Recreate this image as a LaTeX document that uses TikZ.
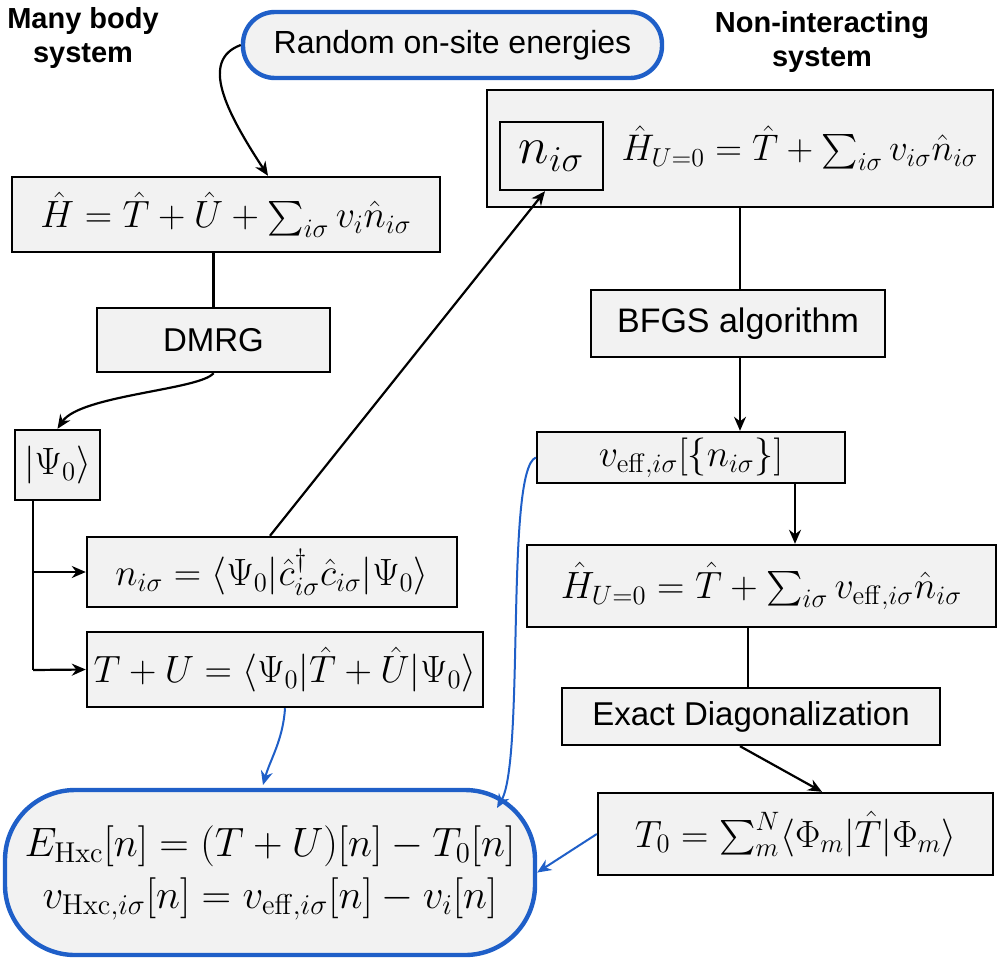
\RequirePackage{fix-cm}
\documentclass[tikz,border=0pt]{standalone}
\usepackage{amsmath}
\usepackage[no-math]{fontspec}
\setmainfont{Liberation Sans}
\usetikzlibrary{arrows.meta}
\definecolor{bl}{HTML}{1F5FC8}
\definecolor{bg}{HTML}{F2F2F2}
\tikzset{
 box/.style={draw=black,line width=1.2pt,fill=bg,inner sep=0pt,font=\fontsize{19}{23}\selectfont},
 tbox/.style={box,font=\fontsize{16.5}{20}\selectfont},
 rbox/.style={draw=bl,line width=2.2pt,fill=bg,rounded corners=16pt,inner sep=0pt,font=\fontsize{16}{20}\selectfont},
 arr/.style={-{Stealth[length=7pt,width=6pt]},line width=1.1pt},
 barr/.style={-{Stealth[length=7pt,width=6pt]},line width=1pt,bl},
 ln/.style={line width=1.1pt},
 ttl/.style={font=\bfseries\fontsize{14.5}{17}\selectfont,align=center}
}
\begin{document}
\begin{tikzpicture}[x=0.5pt,y=-0.5pt]
\useasboundingbox (0,0) rectangle (1000,959);
\node[ttl] (t1) at (83,38) {Many body\\system};
\node[ttl] (t2) at (822,42) {Non-interacting\\system};
\node[rbox,minimum width=209.5pt,minimum height=33pt] (rand) at (452.5,45) {Random on-site energies};
\node[box,minimum width=214pt,minimum height=37.5pt] (H) at (226,214.5) {$\hat H=\hat T+\hat U+\sum_{i\sigma} v_i\hat n_{i\sigma}$};
\node[tbox,minimum width=116.5pt,minimum height=32pt] (dmrg) at (213.5,340) {DMRG};
\node[box,minimum width=42.5pt,minimum height=35pt] (psi) at (57.5,465) {$|\Psi_0\rangle$};
\node[box,minimum width=185pt,minimum height=35pt] (n) at (272,572) {$n_{i\sigma}=\langle\Psi_0|\hat c^\dagger_{i\sigma}\hat c_{i\sigma}|\Psi_0\rangle$};
\node[box,minimum width=198pt,minimum height=37.5pt] (tu) at (285,669.5) {$T+U=\langle\Psi_0|\hat T+\hat U|\Psi_0\rangle$};
\node[rbox,minimum width=265pt,minimum height=82.5pt,rounded corners=35pt,align=center,font=\fontsize{20.5}{24}\selectfont] (bot) at (270,872.5) {$E_{\mathrm{Hxc}}[n]=(T+U)[n]-T_0[n]$\\[2pt]$v_{\mathrm{Hxc},i\sigma}[n]=v_{\mathrm{eff},i\sigma}[n]-v_i[n]$};
\node[box,minimum width=253pt,minimum height=58.5pt] (R) at (740,148.5) {};
\node[box,minimum width=51.5pt,minimum height=34pt,font=\fontsize{26}{30}\selectfont] (ni) at (551.5,156) {$n_{i\sigma}$};
\node[font=\fontsize{18.5}{23}\selectfont] (Rt) at (800,148) {$\hat H_{U=0}=\hat T+\sum_{i\sigma} v_{i\sigma}\hat n_{i\sigma}$};
\node[tbox,minimum width=147pt,minimum height=33.5pt,font=\fontsize{17}{20}\selectfont] (bfgs) at (738,323.5) {BFGS algorithm};
\node[box,minimum width=154pt,minimum height=25.5pt] (veff) at (691,457.5) {$v_{\mathrm{eff},i\sigma}[\{n_{i\sigma}\}]$};
\node[box,minimum width=234.5pt,minimum height=41pt] (heff) at (761.5,586) {$\hat H_{U=0}=\hat T+\sum_{i\sigma} v_{\mathrm{eff},i\sigma}\hat n_{i\sigma}$};
\node[tbox,minimum width=189pt,minimum height=28.5pt] (ed) at (751,716.5) {Exact Diagonalization};
\node[box,minimum width=197.5pt,minimum height=41pt] (t0) at (795.5,834) {$T_0=\sum_m^N\langle\Phi_m|\hat T|\Phi_m\rangle$};
% connectors
\draw[arr] (rand.west) .. controls (200,60) and (225,110) .. (H.north -| 268,0);
\draw[ln] (H.south -| dmrg) -- (dmrg.north);
\draw[arr] (dmrg.south) .. controls (200,390) and (80,395) .. (psi.north);
\coordinate (jn) at (33,572);
\coordinate (jt) at (33,670);
\draw[ln] (psi.south -| jn) -- (jt);
\draw[arr] (jn) -- (n.west);
\draw[arr] (jt) -- (tu.west);
\draw[arr] (n.north -| 270,0) -- (ni.south west -| 545,0);
\draw[ln] (R.south) -- (bfgs.north -| R.south);
\draw[arr] (bfgs.south -| 740,0) -- (veff.north -| 740,0);
\draw[arr] (veff.south -| 795,0) -- (heff.north -| 795,0);
\draw[ln] (heff.south -| 748,0) -- (ed.north -| 748,0);
\draw[arr] (ed.south -| 740,0) -- (t0.north -| 822,0);
\draw[barr] (t0.west) -- (bot.east);
\draw[barr] (tu.south -| 285,0) .. controls (283,740) and (270,760) .. (263,785);
\draw[barr] (veff.west) .. controls (505,470) and (525,760) .. (497,808);
\end{tikzpicture}
\end{document}
